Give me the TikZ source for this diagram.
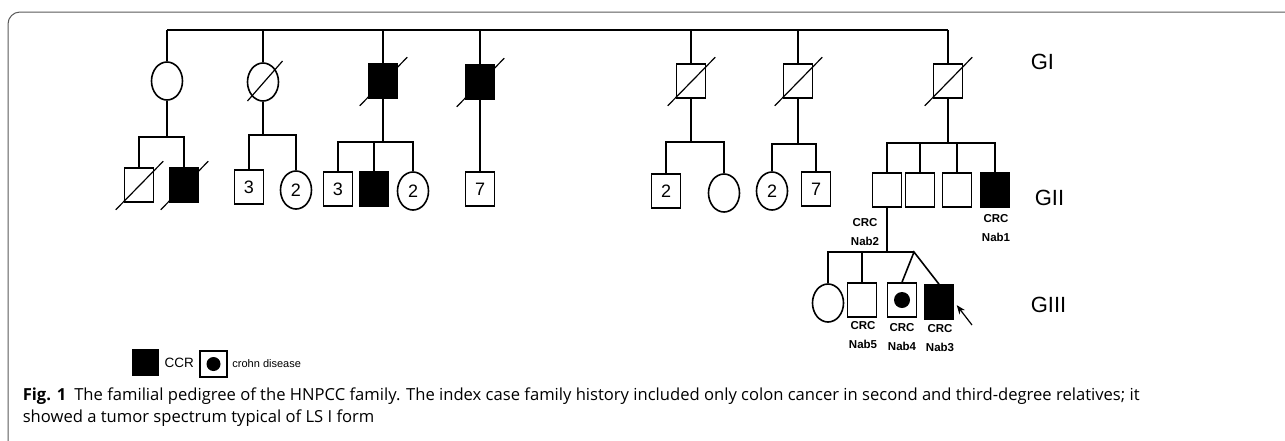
\documentclass[tikz,border=0pt]{standalone}
\usepackage{fontspec}
\setmainfont{Liberation Sans}
\newfontfamily\capfont{Open Sans}
\usetikzlibrary{shapes.geometric,positioning,arrows.meta}

% slash through a deceased person
\newcommand\deceased[1]{\draw[dead] ([shift={(-8,7)}]#1.south west) -- ([shift={(9,-6)}]#1.north east);}

\begin{document}
\begin{tikzpicture}[x=1pt,y=-1pt,line width=1.6pt,
  male/.style={draw,rectangle,minimum width=29pt,minimum height=34pt,inner sep=0pt,font=\fontsize{18}{18}\selectfont},
  female/.style={draw,ellipse,minimum width=31pt,minimum height=38pt,inner sep=0pt,font=\fontsize{18}{18}\selectfont},
  aff/.style={fill=black},
  dotc/.style={circle,fill=black,minimum size=16pt,inner sep=0pt},
  dead/.style={line width=1.2pt},
  gen/.style={anchor=west,inner sep=0pt,font=\fontsize{22}{22}\selectfont},
  lbl/.style={align=center,inner sep=0pt,font=\fontsize{11.5}{19}\selectfont\bfseries},
  legtext/.style={inner sep=0pt,font=\fontsize{11}{11}\selectfont},
  captext/.style={anchor=west,inner sep=0pt,font=\capfont\fontsize{16.6}{16.6}\selectfont}]
	\useasboundingbox (0,0) rectangle (1285,440);
	\draw[line width=1pt,black!65,rounded corners=12pt] (8,445) |- (1295,12);

	% generation I
	\node[female] (gi1) at (167,81) {};
	\node[female] (gi2) at (263,82) {};
	\node[male,aff] (gi3) at (383,81) {};
	\node[male,aff] (gi4) at (480,82) {};
	\node[male] (gi5) at (691,81) {};
	\node[male] (gi6) at (798,81) {};
	\node[male] (gi7) at (948,81) {};
	\draw[dead] ([shift={(-4,5)}]gi2.south west) -- ([shift={(8,-7)}]gi2.north east);
	\deceased{gi3} \deceased{gi4} \deceased{gi5} \deceased{gi6} \deceased{gi7}

	\coordinate (topL) at (167,30);
	\coordinate (topR) at (948,30);
	\draw (topL) -- (topR);
	\foreach \n in {gi1,gi2,gi3,gi4,gi5,gi6,gi7}
		\draw (\n.north) -- (\n.north |- topL);

	% generation II
	\node[male] (a1) at (139,185) {};
	\node[male,aff] (a2) at (184,185) {};
	\node[male] (b1) at (249,187) {3};
	\node[female] (b2) at (296,190) {2};
	\node[male] (c1) at (338,189) {3};
	\node[male,aff] (c2) at (374,189) {};
	\node[female] (c3) at (413,191) {2};
	\node[male] (d1) at (480,189) {7};
	\node[male] (e1) at (666,191) {2};
	\node[female] (e2) at (724,193) {};
	\node[female] (f1) at (772,191) {2};
	\node[male] (f2) at (816,189) {7};
	\node[male] (g1) at (887,190) {};
	\node[male] (g2) at (920,190) {};
	\node[male] (g3) at (957,190) {};
	\node[male,aff] (g4) at (995,190) {};
	\deceased{a1} \deceased{a2}

	\coordinate (s1) at (167,137);
	\coordinate (s2) at (263,135);
	\coordinate (s3) at (383,142);
	\coordinate (s5) at (691,142);
	\coordinate (s6) at (798,144);
	\coordinate (s7) at (948,143);
	\draw (gi1.south) -- (s1);
	\draw (a1.north) |- (s1) -| (a2.north);
	\draw (gi2.south) -- (s2);
	\draw (b1.north) |- (s2) -| (b2.north);
	\draw (gi3.south) -- (s3);
	\draw (c1.north) |- (s3) -| (c3.north);
	\draw (c2.north) -- (c2.north |- s3);
	\draw (gi4.south) -- (d1.north);
	\draw (gi5.south) -- (s5);
	\draw (e1.north) |- (s5) -| (e2.north);
	\draw (gi6.south) -- (s6);
	\draw (f1.north) |- (s6) -| (f2.north);
	\draw (gi7.south) -- (s7);
	\draw (g1.north) |- (s7) -| (g4.north);
	\draw (g2.north) -- (g2.north |- s7);
	\draw (g3.north) -- (g3.north |- s7);

	% generation III
	\node[female] (h1) at (828,303) {};
	\node[male] (h2) at (862,300) {};
	\node[male] (h3) at (902,300) {};
	\node[dotc] (h3dot) at (h3) {};
	\node[male,aff] (h4) at (939,302) {};

	\coordinate (s8) at (887,252);
	\coordinate (tw) at (914,252);
	\draw (g1.south) -- (s8);
	\draw (h1.north) |- (tw);
	\draw (h2.north) -- (h2.north |- tw);
	\draw (h3.north) -- (tw) -- (h4.north);

	\coordinate (arr) at (972,325);
	\draw[line width=1.2pt,-{Stealth[length=9pt,width=7pt]},shorten >=4pt] (arr) -- (h4.east);

	% labels
	\node[lbl] (n2) at (865,232) {CRC\\Nab2};
	\node[lbl] (n1) at (996,228) {CRC\\Nab1};
	\node[lbl] (n5) at (863,335) {CRC\\Nab5};
	\node[lbl] (n4) at (902,337) {CRC\\Nab4};
	\node[lbl] (n3) at (940,338) {CRC\\Nab3};

	\node[gen] (l1) at (1030,62) {GI};
	\node[gen] (l2) at (1034,198) {GII};
	\node[gen] (l3) at (1030,305) {GIII};

	% legend
	\node[male,aff,minimum width=25pt,minimum height=25pt] (lg1) at (145.5,362.5) {};
	\node[legtext,font=\fontsize{13.5}{13.5}\selectfont,right=5pt of lg1] (lg1t) {CCR};
	\node[male,line width=1.3pt,minimum width=27pt,minimum height=26pt] (lg2) at (213.5,364) {};
	\node[dotc,minimum size=14pt] (lg2dot) at (lg2) {};
	\node[legtext,right=4pt of lg2] (lg2t) {crohn disease};

	% caption
	\node[captext] (cap1) at (22,396) {\textbf{Fig. 1}\hspace{8pt}The familial pedigree of the HNPCC family. The index case family history included only colon cancer in second and third-degree relatives; it};
	\node[captext] (cap2) at (22,418) {showed a tumor spectrum typical of LS I form};
\end{tikzpicture}
\end{document}
